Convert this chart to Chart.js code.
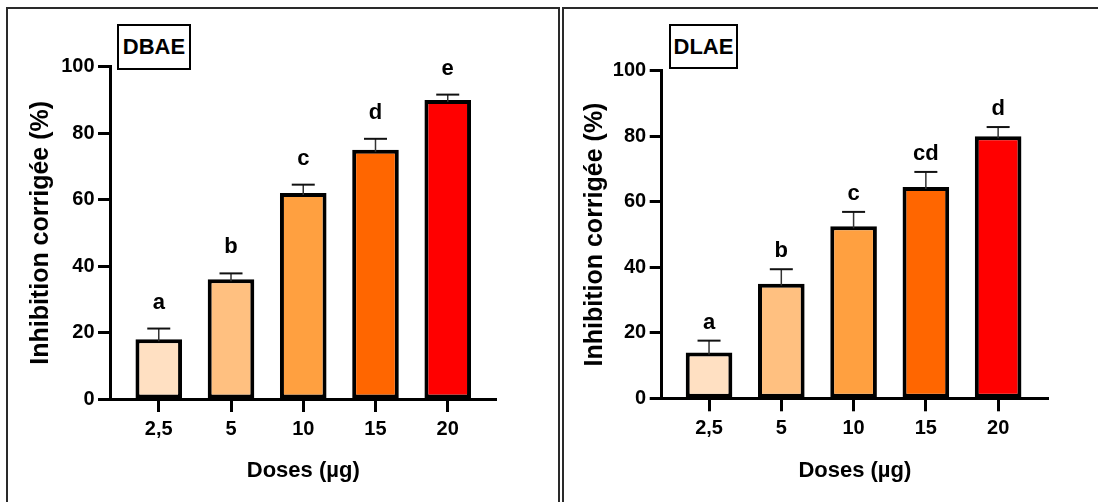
<!DOCTYPE html>
<html>
<head>
<meta charset="utf-8">
<script src="https://cdn.jsdelivr.net/npm/chart.js@4.4.1/dist/chart.umd.min.js"></script>
<style>
  html, body { margin: 0; padding: 0; background: #fff; }
  body { position: relative; width: 1098px; height: 502px; overflow: hidden;
         font-family: "Liberation Sans", Arial, sans-serif; }
  .frame { position: absolute; box-sizing: border-box; border: 2px solid #2a2a2a; }
  #frameL { left: 6px; top: 7px; width: 554px; height: 520px; }
  #frameR { left: 562px; top: 7px; width: 560px; height: 520px; }
  .wrap { position: absolute; top: 0; width: 549px; height: 502px; }
  #wrapL { left: 0; }
  #wrapR { left: 549px; }
  .tag { position: absolute; box-sizing: border-box; border: 2px solid #000; background: #fff;
         color: #000; font-family: "Liberation Sans", Arial, sans-serif; font-weight: bold;
         font-size: 22px; display: flex; align-items: center; justify-content: center; }
  #tagL { left: 117px; top: 24px; width: 74px; height: 46px; }
  #tagR { left: 669px; top: 24px; width: 69px; height: 45px; }
</style>
</head>
<body>
<div class="frame" id="frameL"></div>
<div class="frame" id="frameR"></div>
<div class="wrap" id="wrapL"><canvas id="chartL" width="549" height="502"></canvas></div>
<div class="wrap" id="wrapR"><canvas id="chartR" width="549" height="502"></canvas></div>
<div class="tag" id="tagL">DBAE</div>
<div class="tag" id="tagR">DLAE</div>

<script>
// Doses tested (x categories)
const doses = ['2,5', '5', '10', '15', '20'];

// DBAE extract: mean corrected inhibition (%), SD and statistical groups
const dbaeMeans  = [18, 36, 62, 75, 90];
const dbaeSD     = [3.2, 1.8, 2.5, 3.3, 1.6];
const dbaeGroups = ['a', 'b', 'c', 'd', 'e'];

// DLAE extract
const dlaeMeans  = [14, 35, 52.5, 64.5, 80];
const dlaeSD     = [3.6, 4.4, 4.4, 4.6, 2.8];
const dlaeGroups = ['a', 'b', 'c', 'cd', 'd'];

// Y axis tick values
const yTicks = [0, 20, 40, 60, 80, 100];

// One fill per dose, light to dark
const barColors = ['#FFE0C2', '#FFC080', '#FFA040', '#FF6600', '#FF0000'];

const FONT = '"Liberation Sans", Arial, sans-serif';

// Upper SD whiskers and group letters above each bar
const errorBars = {
  id: 'errorBars',
  afterDatasetsDraw(chart, args, opts) {
    const ctx = chart.ctx;
    const yScale = chart.scales.y;
    const meta = chart.getDatasetMeta(0);
    const data = chart.data.datasets[0].data;
    ctx.save();
    meta.data.forEach((bar, i) => {
      const yTop = yScale.getPixelForValue(data[i].y);
      const yCap = yScale.getPixelForValue(data[i].y + opts.sd[i]);
      ctx.strokeStyle = '#333';
      ctx.lineWidth = 1.5;
      ctx.beginPath();
      ctx.moveTo(bar.x, yTop + 2);
      ctx.lineTo(bar.x, yCap);
      ctx.stroke();
      ctx.strokeStyle = '#111';
      ctx.lineWidth = 2;
      ctx.beginPath();
      ctx.moveTo(bar.x - 11.5, yCap);
      ctx.lineTo(bar.x + 11.5, yCap);
      ctx.stroke();
      ctx.fillStyle = '#000';
      ctx.font = 'bold 22px ' + FONT;
      ctx.textAlign = 'center';
      ctx.textBaseline = 'alphabetic';
      ctx.fillText(opts.labels[i], bar.x, yCap - opts.gap);
    });
    ctx.restore();
  }
};

function buildChart(canvasId, means, sd, groups, cfg) {
  const points = means.map((v, i) => ({ x: i, y: v }));
  return new Chart(document.getElementById(canvasId), {
    type: 'bar',
    data: {
      datasets: [{
        data: points,
        backgroundColor: barColors,
        borderColor: '#000',
        borderWidth: 4,
        borderSkipped: false,
        categoryPercentage: 1,
        barPercentage: 0.645
      }]
    },
    options: {
      responsive: false,
      animation: false,
      events: [],
      layout: { padding: { left: 0, top: cfg.top, right: cfg.right, bottom: 0 } },
      plugins: {
        legend: { display: false },
        tooltip: { enabled: false },
        errorBars: { sd: sd, labels: groups, gap: cfg.letterGap }
      },
      scales: {
        x: {
          type: 'linear',
          min: cfg.xMin,
          max: cfg.xMax,
          offset: false,
          afterBuildTicks: s => { s.ticks = doses.map((_, i) => ({ value: i })); },
          afterFit: s => { s.height = cfg.xAxisHeight; },
          ticks: {
            callback: v => doses[v],
            autoSkip: false,
            maxRotation: 0,
            padding: 5,
            color: '#000',
            font: { family: FONT, size: 20, weight: 'bold' }
          },
          grid: {
            offset: false,
            drawOnChartArea: false,
            drawTicks: true,
            tickLength: 13,
            tickWidth: 3,
            tickColor: '#000'
          },
          border: { display: true, color: '#000', width: 3 },
          title: {
            display: true,
            text: 'Doses (µg)',
            color: '#000',
            font: { family: FONT, size: 22, weight: 'bold' },
            padding: { top: 0, bottom: 18 }
          }
        },
        y: {
          min: 0,
          max: 100,
          afterBuildTicks: s => { s.ticks = yTicks.map(v => ({ value: v })); },
          afterFit: s => { s.width = cfg.yAxisWidth; },
          ticks: {
            padding: 3.5,
            color: '#000',
            font: { family: FONT, size: 20, weight: 'bold' }
          },
          grid: { drawOnChartArea: false, drawTicks: true, tickLength: 12, tickWidth: 3, tickColor: '#000' },
          border: { display: true, color: '#000', width: 3 },
          title: {
            display: true,
            text: 'Inhibition corrigée (%)',
            color: '#000',
            font: { family: FONT, size: 25, weight: 'bold' },
            padding: { top: cfg.yTitlePad, bottom: 0 }
          }
        }
      }
    },
    plugins: [errorBars]
  });
}

buildChart('chartL', dbaeMeans, dbaeSD, dbaeGroups, {
  top: 66.7, right: 52.5, yAxisWidth: 110, xAxisHeight: 103,
  xMin: -0.675, xMax: 4.675, yTitlePad: 26.3, letterGap: 20
});

buildChart('chartR', dlaeMeans, dlaeSD, dlaeGroups, {
  top: 70.7, right: 50, yAxisWidth: 112.7, xAxisHeight: 103.7,
  xMin: -0.655, xMax: 4.69, yTitlePad: 31, letterGap: 12
});
</script>
</body>
</html>
